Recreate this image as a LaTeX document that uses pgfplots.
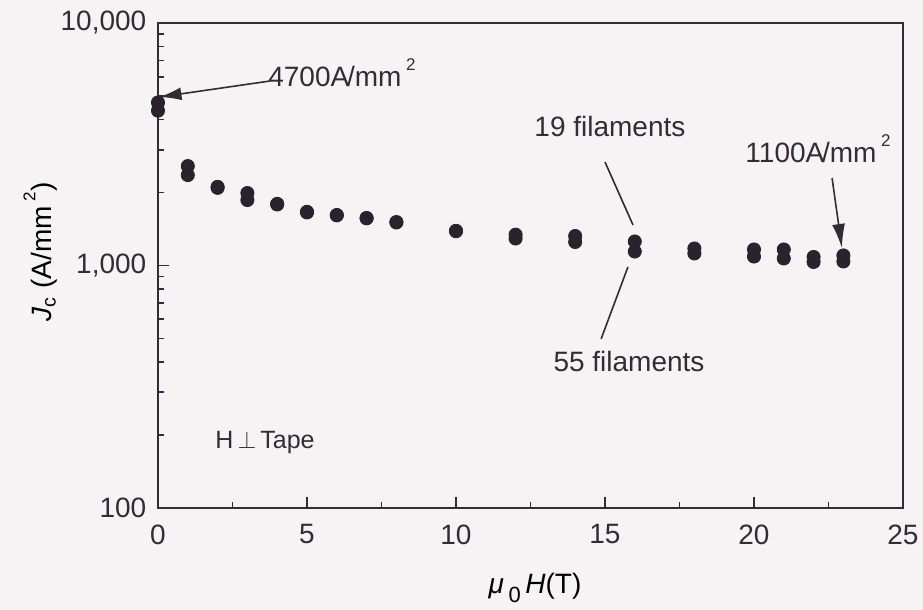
\documentclass[border=0pt]{standalone}
\usepackage{pgfplots}
\pgfplotsset{compat=1.18}
\usepackage{fontspec}
\setmainfont{Liberation Sans}
\usetikzlibrary{arrows.meta}
\definecolor{bg}{RGB}{246,243,245}
\definecolor{ink}{RGB}{50,45,52}
\definecolor{dot}{RGB}{40,35,45}
\pagecolor{bg}
\begin{document}
\fontsize{14}{16}\selectfont
\begin{tikzpicture}
\begin{axis}[
  scale only axis,
  width=372.5pt, height=242.5pt,
  ymode=log,
  xmin=0, xmax=25, ymin=100, ymax=10000,
  xtick={0,5,10,15,20,25},
  minor x tick num=1,
  ytick={100,1000,10000},
  yticklabels={100,{1,000},{10,000}},
  xtick pos=lower, ytick pos=left,
  tick align=inside,
  major tick length=5.5pt, minor tick length=3pt,
  axis line style={ink, line width=1.2pt},
  every tick/.style={ink, line width=0.8pt},
  /pgf/number format/assume math mode=true,
  tick label style={font=\fontsize{14}{16}\selectfont, text=ink},
  xticklabel style={yshift=-3.5pt},
  yticklabel style={xshift=-1pt},
  label style={font=\fontsize{14}{16}\selectfont, text=ink},
  every axis y label/.style={at={(axis description cs:-0.158,0.528)},rotate=90,anchor=center},
  every axis x label/.style={at={(axis description cs:0.506,-0.165)},anchor=center},
  ylabel={\textit{J}\textsubscript{c} (A/mm\,\raisebox{8pt}{\fontsize{8.5}{8.5}\selectfont 2})},
  xlabel={\textit{μ}\,\raisebox{-4.5pt}{\fontsize{11}{11}\selectfont 0}\,\textit{H}(T)},
  clip=false,
]
% 19 filaments
\addplot[only marks, mark=*, mark size=3.3pt, color=dot] coordinates {
 (0,4700) (1,2570) (2,2110) (3,1990) (4,1795) (5,1665) (6,1615) (7,1570) (8,1510)
 (10,1390) (12,1340) (14,1323) (16,1256) (18,1175) (20,1164) (21,1164) (22,1084) (23,1100)
};
% 55 filaments
\addplot[only marks, mark=*, mark size=3.3pt, color=dot] coordinates {
 (0,4350) (1,2360) (2,2090) (3,1862) (4,1785) (5,1655) (6,1610) (7,1565) (8,1505)
 (10,1385) (12,1292) (14,1250) (16,1142) (18,1121) (20,1089) (21,1069) (22,1034) (23,1039)
};
% annotations
\draw[ink, line width=0.8pt, -{Latex[length=11pt,width=6.5pt]}] (axis cs:3.76,5765) -- (axis cs:0.05,4953);
\node[anchor=base west, inner sep=0, text=ink] at (axis cs:3.69,5472) {4700A\kern-0.08em/mm\,\raisebox{8pt}{\fontsize{8.5}{8.5}\selectfont 2}};
\node[anchor=base west, inner sep=0, text=ink] at (axis cs:12.62,3388) {19 filaments};
\draw[ink, line width=0.8pt] (axis cs:15.0,2672) -- (axis cs:15.94,1469);
\draw[ink, line width=0.8pt] (axis cs:15.77,986) -- (axis cs:14.87,498);
\node[anchor=base west, inner sep=0, text=ink] at (axis cs:13.26,364) {55 filaments};
\node[anchor=base west, inner sep=0, text=ink] at (axis cs:19.70,2647) {1100A\kern-0.08em/mm\,\raisebox{8pt}{\fontsize{8.5}{8.5}\selectfont 2}};
\draw[ink, line width=0.8pt, -{Latex[length=12pt,width=6.5pt]}] (axis cs:22.62,2295) -- (axis cs:22.95,1181);
\node[anchor=west, inner sep=0, text=ink, font=\fontsize{12.5}{14}\selectfont] at (axis cs:1.91,187) {H\,$\perp$\,Tape};
\end{axis}
\pgfresetboundingbox
\path[use as bounding box] (current axis.south west) ++(-79pt,-51pt) rectangle ++(461.5pt,305pt);
\end{tikzpicture}
\end{document}
